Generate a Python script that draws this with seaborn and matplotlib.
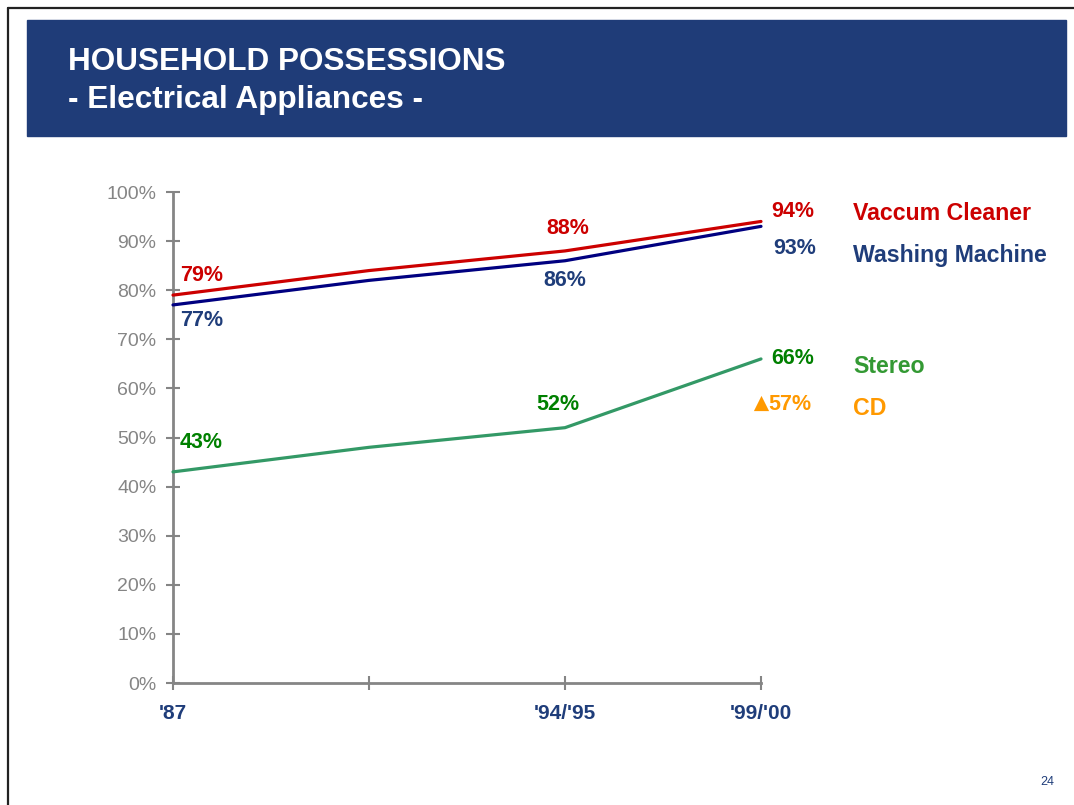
import matplotlib
matplotlib.use("Agg")
import matplotlib.pyplot as plt
import seaborn as sns
import pandas as pd

# ---- data -------------------------------------------------------------
periods = ["'87", "", "'94/'95", "'99/'00"]
vacuum_cleaner = [79, 84, 88, 94]
washing_machine = [77, 82, 86, 93]
stereo = [43, 48, 52, 66]
cd_period = "'99/'00"
cd_value = 57
y_ticks = [0, 10, 20, 30, 40, 50, 60, 70, 80, 90, 100]

series_names = ["Vaccum Cleaner", "Washing Machine", "Stereo"]

# ---- styling ----------------------------------------------------------
sns.set_theme(style="white")
plt.rcParams["font.family"] = ["Liberation Sans", "DejaVu Sans"]

NAVY_BOX = "#1F3C78"
LABEL_BLUE = "#1F3D7A"
GREY = "#858585"
line_colors = {"Vaccum Cleaner": "#CC0000",
               "Washing Machine": "#000080",
               "Stereo": "#339966"}
label_colors = {"Vaccum Cleaner": "#CC0000",
                "Washing Machine": "#1F3D7A",
                "Stereo": "#008000"}
legend_colors = {"Vaccum Cleaner": "#CC0000",
                 "Washing Machine": "#1F3D7A",
                 "Stereo": "#339933",
                 "CD": "#FF9900"}
CD_COLOR = "#FF9900"

W, H = 1074, 805
fig = plt.figure(figsize=(W / 100, H / 100), dpi=100)
fig.patch.set_facecolor("white")

def fx(px):
    return px / W

def fy(py):
    return 1 - py / H

# slide frame
fig.add_artist(plt.Line2D([fx(8), fx(8)], [fy(8), 0], color="#222222", lw=1.6))
fig.add_artist(plt.Line2D([fx(8), 1], [fy(8), fy(8)], color="#222222", lw=1.6))

# title banner
fig.add_artist(plt.Rectangle((fx(27), fy(136)), fx(1066) - fx(27), fy(20) - fy(136),
                             transform=fig.transFigure, color=NAVY_BOX, zorder=1))
fig.text(fx(68), fy(62), "HOUSEHOLD POSSESSIONS", color="white", fontsize=22.7,
         fontweight="bold", va="center", ha="left", zorder=2)
fig.text(fx(68), fy(100), "- Electrical Appliances -", color="white", fontsize=22.7,
         fontweight="bold", va="center", ha="left", zorder=2)

# ---- chart ------------------------------------------------------------
ax = fig.add_axes([fx(173), fy(683), fx(761) - fx(173), fy(192) - fy(683)])

positions = list(range(len(periods)))
df = pd.DataFrame({
    "pos": positions * 3,
    "share": vacuum_cleaner + washing_machine + stereo,
    "item": [n for n in series_names for _ in periods],
})

sns.lineplot(data=df, x="pos", y="share", hue="item", hue_order=series_names,
             palette=line_colors, linewidth=2.3, legend=False, ax=ax,
             clip_on=False, zorder=3)

cd_df = pd.DataFrame({"pos": [periods.index(cd_period)], "share": [cd_value]})
sns.scatterplot(data=cd_df, x="pos", y="share", marker="^", s=120,
                color=CD_COLOR, edgecolor=CD_COLOR, linewidth=0, ax=ax,
                clip_on=False, zorder=4)

ax.set_xlim(0, len(periods) - 1)
ax.set_ylim(0, 100)
ax.set_xticks(positions)
ax.set_xticklabels(periods)
ax.set_yticks(y_ticks)
ax.set_yticklabels([f"{v}%" for v in y_ticks])
ax.set_xlabel("")
ax.set_ylabel("")

for side in ("top", "right"):
    ax.spines[side].set_visible(False)
for side in ("left", "bottom"):
    ax.spines[side].set_color(GREY)
    ax.spines[side].set_linewidth(2)

ax.tick_params(axis="y", direction="inout", length=10, width=1.5, color=GREY,
               labelcolor=GREY, labelsize=14, pad=7, left=True)
ax.tick_params(axis="x", direction="inout", length=10, width=1.5, color=GREY,
               labelcolor=LABEL_BLUE, labelsize=15, pad=10, bottom=True)
for t in ax.get_xticklabels():
    t.set_fontweight("bold")

# value labels (offsets in points from each point)
label_offsets = {
    "Vaccum Cleaner": {0: (5, 14, "left"), 2: (2, 16.5, "center"), 3: (23, 7.5, "center")},
    "Washing Machine": {0: (5, -11, "left"), 2: (0, -14, "center"), 3: (24.5, -16, "center")},
    "Stereo": {0: (5, 21, "left"), 2: (-5, 17, "center"), 3: (22.5, 0, "center")},
}
series_values = dict(zip(series_names, [vacuum_cleaner, washing_machine, stereo]))
for name, offs in label_offsets.items():
    vals = series_values[name]
    for i, (dx, dy, ha) in offs.items():
        ax.annotate(f"{vals[i]}%", (positions[i], vals[i]), xytext=(dx, dy),
                    textcoords="offset points", ha=ha, va="center",
                    fontsize=15.5, fontweight="bold", color=label_colors[name],
                    annotation_clip=False)

ax.annotate(f"{cd_value}%", (periods.index(cd_period), cd_value), xytext=(5, -1),
            textcoords="offset points", ha="left", va="center", fontsize=15.5,
            fontweight="bold", color=CD_COLOR, annotation_clip=False)

# series names to the right of the plot
legend_rows = [("Vaccum Cleaner", 213), ("Washing Machine", 255),
               ("Stereo", 366), ("CD", 408)]
for name, ypx in legend_rows:
    fig.text(fx(853), fy(ypx), name, color=legend_colors[name], fontsize=16.7,
             fontweight="bold", ha="left", va="center")

# page number
fig.text(fx(1054), fy(782), "24", color=LABEL_BLUE, fontsize=9, ha="right", va="center")

fig.savefig("out.png", dpi=100, facecolor="white")
